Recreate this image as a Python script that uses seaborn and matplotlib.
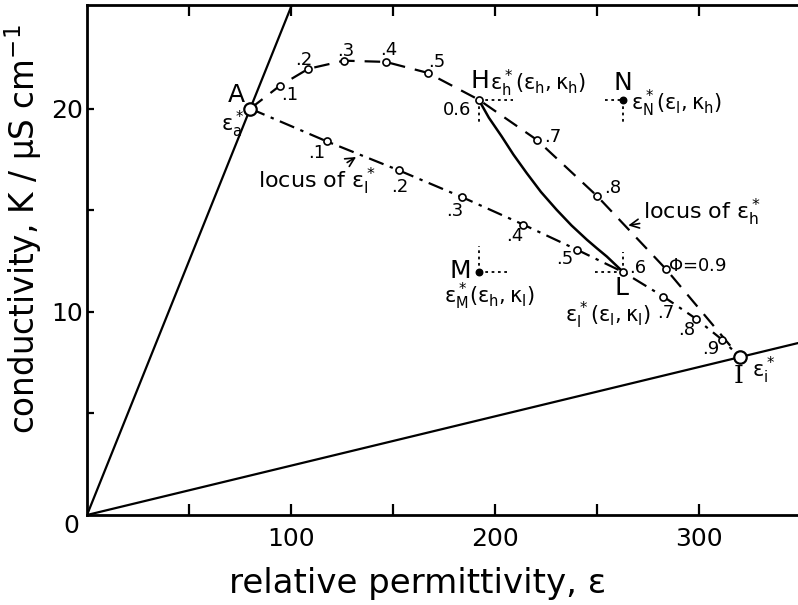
import matplotlib
matplotlib.use("Agg")
import matplotlib.pyplot as plt
import numpy as np
import seaborn as sns

# Volume fraction Phi along the two loci
phi = [0.0, 0.1, 0.2, 0.3, 0.4, 0.5, 0.6, 0.7, 0.8, 0.9, 1.0]
phi_labels = ["", ".1", ".2", ".3", ".4", ".5", "0.6", ".7", ".8", "", ""]

# Locus of eps_h* (upper, dashed)
eps_h_locus = [80, 94.6, 108.5, 126.0, 146.4, 167.0, 192.0, 220.4, 250.0, 283.8, 320.0]
kap_h_locus = [20.0, 21.13, 21.96, 22.36, 22.30, 21.76, 20.44, 18.47, 15.70, 12.10, 7.77]

# Locus of eps_l* (lower, dash-dot)
eps_l_locus = [80, 117.5, 152.9, 183.7, 213.9, 240.3, 262.9, 282.5, 298.5, 311.4, 320.0]
kap_l_locus = [20.0, 18.39, 16.96, 15.65, 14.29, 13.05, 11.95, 10.75, 9.66, 8.62, 7.77]

# Solid curve joining H and L
eps_hl = [192.0, 197.0, 203.2, 209.0, 215.5, 222.5, 230.2, 237.5, 245.0, 250.0, 254.8, 259.0, 262.9]
kap_hl = [20.44, 19.55, 18.64, 17.74, 16.83, 15.90, 15.02, 14.25, 13.55, 13.12, 12.72, 12.32, 11.95]

# Limiting points
eps_a, kap_a = 80.0, 20.0     # A
eps_i, kap_i = 320.0, 7.77    # I
eps_h, kap_h = 192.0, 20.44   # H
eps_l, kap_l = 262.9, 11.95   # L

sns.set_theme(style="white")
plt.rcParams["font.family"] = ["DejaVu Sans"]
plt.rcParams["mathtext.fontset"] = "dejavusans"
plt.rcParams["mathtext.default"] = "regular"
plt.rcParams["text.color"] = "black"
plt.rcParams["axes.labelcolor"] = "black"
plt.rcParams["xtick.color"] = "black"
plt.rcParams["ytick.color"] = "black"

fig = plt.figure(figsize=(7.98, 6.05), dpi=100)
ax = fig.add_axes([87 / 798, 90 / 605, 711 / 798, 510 / 605])
ax.set_xlim(0, 348.5)
ax.set_ylim(0, 25.1)

K = "black"

# Rays from the origin through A and I
ax.axline((0, 0), (eps_a, kap_a), color=K, lw=1.6, zorder=2)
ax.axline((0, 0), (eps_i, kap_i), color=K, lw=1.6, zorder=2)

# Loci
sns.lineplot(x=eps_h_locus, y=kap_h_locus, sort=False, estimator=None, color=K,
             lw=1.6, linestyle=(0, (7, 4.5)), ax=ax, zorder=3)
sns.lineplot(x=eps_l_locus, y=kap_l_locus, sort=False, estimator=None, color=K,
             lw=1.6, linestyle=(0, (7, 3, 1.5, 3)), ax=ax, zorder=3)
sns.lineplot(x=eps_hl, y=kap_hl, sort=False, estimator=None, color=K,
             lw=1.8, ax=ax, zorder=3)

# Crosshair guides for H, N, M, L
dot = dict(color=K, lw=1.3, linestyle=(0, (1.5, 2)), zorder=2)
ax.plot([eps_h, 208.8], [kap_h, kap_h], **dot)
ax.plot([eps_h, eps_h], [kap_h, 19.2], **dot)
ax.plot([254.0, eps_l], [kap_h, kap_h], **dot)
ax.plot([eps_l, eps_l], [kap_h, 19.2], **dot)
ax.plot([eps_h, eps_h], [kap_l, 13.25], **dot)
ax.plot([eps_h, 206.5], [kap_l, kap_l], **dot)
ax.plot([eps_l, eps_l], [kap_l, 12.92], **dot)
ax.plot([249.0, eps_l], [kap_l, kap_l], **dot)

# Markers on both loci
sns.scatterplot(x=eps_h_locus[1:-1], y=kap_h_locus[1:-1], marker="o", s=26,
                color="white", edgecolor=K, linewidth=1.2, ax=ax, zorder=5)
sns.scatterplot(x=eps_l_locus[1:-1], y=kap_l_locus[1:-1], marker="o", s=26,
                color="white", edgecolor=K, linewidth=1.2, ax=ax, zorder=5)
sns.scatterplot(x=[eps_a, eps_i], y=[kap_a, kap_i], marker="o", s=80,
                color="white", edgecolor=K, linewidth=1.6, ax=ax, zorder=6)
sns.scatterplot(x=[eps_l, eps_h], y=[kap_h, kap_l], marker="o", s=22,
                color=K, edgecolor=K, linewidth=1, ax=ax, zorder=6)

# Phi labels
fs_p = 13
up_pos = {1: (99.5, 20.69), 2: (106.4, 22.41), 3: (126.8, 22.82), 4: (148.0, 22.87),
          5: (171.6, 22.28), 6: (181.2, 19.95), 7: (228.4, 18.62), 8: (257.8, 16.10)}
for i, (x, y) in up_pos.items():
    ax.text(x, y, phi_labels[i], fontsize=fs_p, ha="center", va="center")
lo_pos = {1: (112.6, 17.83), 2: (153.4, 16.16), 3: (180.4, 14.94), 4: (209.8, 13.74),
          5: (234.3, 12.61), 6: (270.1, 12.17), 7: (283.8, 9.95), 8: (294.0, 9.11),
          9: (305.7, 8.18)}
for i, (x, y) in lo_pos.items():
    lab = "." + str(int(round(phi[i] * 10)))
    ax.text(x, y, lab, fontsize=fs_p, ha="center", va="center")
ax.text(284.6, 12.27, r"$\Phi$=0.9", fontsize=fs_p, ha="left", va="center")

# Point names
fs_big = 18
fs_eps = 15
ax.text(73.3, 20.69, "A", fontsize=fs_big, ha="center", va="center")
ax.text(71.6, 19.2, r"$\varepsilon_a^*$", fontsize=fs_eps, ha="center", va="center")
ax.text(192.8, 21.34, "H", fontsize=fs_big, ha="center", va="center")
ax.text(197.5, 21.25, r"$\varepsilon_h^*(\varepsilon_h,\kappa_h)$", fontsize=fs_eps,
        ha="left", va="center")
ax.text(262.6, 21.27, "N", fontsize=fs_big, ha="center", va="center")
ax.text(266.5, 20.25, r"$\varepsilon_N^*(\varepsilon_l,\kappa_h)$", fontsize=fs_eps,
        ha="left", va="center")
ax.text(182.8, 11.99, "M", fontsize=fs_big, ha="center", va="center")
ax.text(197.0, 10.75, r"$\varepsilon_M^*(\varepsilon_h,\kappa_l)$", fontsize=fs_eps,
        ha="center", va="center")
ax.text(262.1, 11.15, "L", fontsize=fs_big, ha="center", va="center")
ax.text(255.5, 9.8, r"$\varepsilon_l^*(\varepsilon_l,\kappa_l)$", fontsize=fs_eps,
        ha="center", va="center")
ax.text(319.3, 6.81, "I", fontsize=fs_big, ha="center", va="center", family="DejaVu Serif")
ax.text(331.9, 7.14, r"$\varepsilon_i^*$", fontsize=fs_eps, ha="center", va="center")

# Locus captions with arrows
ax.annotate(r"locus of $\varepsilon_h^*$", xy=(265.3, 14.25), xytext=(272.5, 14.88),
            fontsize=16, ha="left", va="center",
            arrowprops=dict(arrowstyle="->", color=K, lw=1.2, shrinkA=0, shrinkB=0))
ax.annotate(r"locus of $\varepsilon_l^*$", xy=(131.9, 17.62), xytext=(112.5, 16.42),
            fontsize=16, ha="center", va="center",
            arrowprops=dict(arrowstyle="->", color=K, lw=1.2, shrinkA=9, shrinkB=0))

# Axes, ticks and labels
for side in ("left", "bottom", "top"):
    ax.spines[side].set_visible(True)
    ax.spines[side].set_linewidth(2.0)
    ax.spines[side].set_color(K)
ax.spines["right"].set_visible(False)

ax.set_xticks([100, 200, 300])
ax.set_xticks([50, 150, 250], minor=True)
ax.set_yticks([10, 20])
ax.set_yticks([5, 15], minor=True)
ax.tick_params(axis="both", which="both", direction="in", color=K, width=1.6,
               labelsize=18, labelcolor=K)
ax.tick_params(axis="x", which="both", length=8, pad=9, top=True, bottom=True)
ax.tick_params(axis="y", which="both", length=5, pad=3, left=True)
ax.annotate("0", xy=(0, 0), xytext=(-11, -8), textcoords="offset points",
            fontsize=18, ha="center", va="center")

ax.set_xlabel("relative permittivity, ε", fontsize=24.5)
ax.set_ylabel(r"conductivity, K / μS cm$^{-1}$", fontsize=23.5)
ax.xaxis.set_label_coords((418 - 87) / 711, (515 - 583) / 510)
ax.yaxis.set_label_coords((23 - 87) / 711, (515 - 229) / 510)
ax.xaxis.label.set_va("center")
ax.yaxis.label.set_va("center")

fig.savefig("out.png", dpi=100)
